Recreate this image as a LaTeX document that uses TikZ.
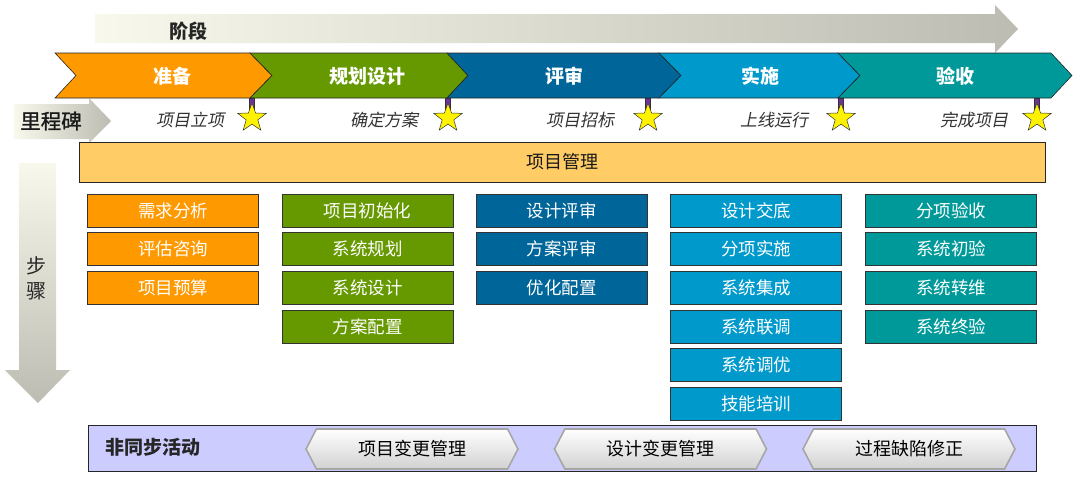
\documentclass[tikz,border=0pt]{standalone}
\usepackage{fontspec}
\setmainfont{Noto Sans CJK SC}
\newfontfamily\cjkit[FakeSlant=0.2]{Noto Sans CJK SC}
\newfontfamily\cjkmed[FakeBold=1.2]{Noto Sans CJK SC}
\usetikzlibrary{shapes.geometric,shapes.symbols}
\definecolor{corange}{HTML}{FF9900}
\definecolor{cgreen}{HTML}{669900}
\definecolor{cblue}{HTML}{006699}
\definecolor{clblue}{HTML}{0099CC}
\definecolor{cteal}{HTML}{009999}
\definecolor{cpm}{HTML}{FFCC66}
\definecolor{clav}{HTML}{CCCCFF}
\definecolor{cpurple}{HTML}{7030A0}
\definecolor{glight}{HTML}{F8F8EC}
\definecolor{gdark}{HTML}{BCBCB2}
\definecolor{txtgrey}{HTML}{333333}
\tikzset{
  stagepath/.style={draw=black!85, line width=0.6pt},
  stagelabel/.style={text=white, font=\fontsize{19}{19}\selectfont\bfseries, inner sep=0},
  stepbox/.style={draw=black!80, line width=0.8pt, minimum width=171pt, minimum height=33pt, inner sep=0, text=white, font=\fontsize{17.5}{18}\selectfont},
  mstext/.style={text=txtgrey, font=\fontsize{17}{17}\selectfont\cjkit, inner sep=0},
  msstar/.style={star, star points=5, star point ratio=2.45, fill=yellow, draw=black!80, line width=0.5pt, minimum size=30pt, inner sep=0},
  msbar/.style={fill=cpurple, draw=black!80, line width=0.4pt},
  btn/.style={signal, signal to=west and east, signal pointer angle=125, minimum width=212pt, minimum height=40pt, inner sep=0, top color=white, bottom color=black!18, draw=black!35, line width=1.6pt, font=\fontsize{18}{18}\selectfont},
}
\begin{document}
\begin{tikzpicture}[x=1pt,y=-1pt]
\useasboundingbox (0,0) rectangle (1080,482);
% top phase arrow
\shade[left color=glight, right color=gdark] (95,14) -- (995,14) -- (995,5) -- (1018,29) -- (995,53) -- (995,43) -- (95,43) -- cycle;
\node[font=\fontsize{19}{19}\selectfont\bfseries, text=black!85, inner sep=0] (phase) at (188,31) {阶段};
% milestone arrow
\shade[left color=glight, right color=gdark] (14,104) -- (89,104) -- (89,98) -- (111,121) -- (89,143) -- (89,139) -- (14,139) -- cycle;
\node[font=\fontsize{20.5}{21}\selectfont\cjkmed, text=black!90, inner sep=0] (ms) at (51,121) {里程碑};
% steps arrow
\shade[top color=glight, bottom color=gdark] (19,163) -- (56,163) -- (56,370) -- (70,370) -- (38,403) -- (5,370) -- (19,370) -- cycle;
\node[font=\fontsize{20}{25}\selectfont, text=black!85, align=center, inner sep=0] (steps) at (36,278) {步\\骤};
% chevrons
\path[stagepath, fill=corange] (55,53) -- (250,53) -- (272,75.5) -- (250,98) -- (55,98) -- (76,75.5) -- cycle;
\path[stagepath, fill=cgreen] (250,53) -- (447,53) -- (468,75.5) -- (447,98) -- (250,98) -- (272,75.5) -- cycle;
\path[stagepath, fill=cblue] (447,53) -- (659,53) -- (681,75.5) -- (659,98) -- (447,98) -- (468,75.5) -- cycle;
\path[stagepath, fill=clblue] (659,53) -- (838,53) -- (860,75.5) -- (838,98) -- (659,98) -- (681,75.5) -- cycle;
\path[stagepath, fill=cteal] (838,53) -- (1051,53) -- (1072,75.5) -- (1051,98) -- (838,98) -- (860,75.5) -- cycle;
\node[stagelabel] (st1) at (172,76) {准备};
\node[stagelabel] (st2) at (367,76) {规划设计};
\node[stagelabel] (st3) at (564,76) {评审};
\node[stagelabel] (st4) at (760,76) {实施};
\node[stagelabel] (st5) at (955,76) {验收};
% milestones
\foreach \x [count=\i] in {252,448,648,841,1037} {
  \path[msbar] (\x-2.5,98) rectangle (\x+2.5,109);
  \node[msstar] (star\i) at (\x,118) {};
}
\node[mstext] (m1) at (190,120) {项目立项};
\node[mstext] (m2) at (384,120) {确定方案};
\node[mstext] (m3) at (580,120) {项目招标};
\node[mstext] (m4) at (774,120) {上线运行};
\node[mstext] (m5) at (974,120) {完成项目};
% project management bar
\node[draw=black!85, line width=0.8pt, fill=cpm, minimum width=966pt, minimum height=40pt, inner sep=0, font=\fontsize{18}{18}\selectfont, text=black!90] (pm) at (562,162) {项目管理};
% step boxes
\node[stepbox, fill=corange] (a1) at (173,210.5) {需求分析};
\node[stepbox, fill=corange] (a2) at (173,249.2) {评估咨询};
\node[stepbox, fill=corange] (a3) at (173,287.9) {项目预算};
\node[stepbox, fill=cgreen] (b1) at (367.5,210.5) {项目初始化};
\node[stepbox, fill=cgreen] (b2) at (367.5,249.2) {系统规划};
\node[stepbox, fill=cgreen] (b3) at (367.5,287.9) {系统设计};
\node[stepbox, fill=cgreen] (b4) at (367.5,326.6) {方案配置};
\node[stepbox, fill=cblue] (c1) at (561.5,210.5) {设计评审};
\node[stepbox, fill=cblue] (c2) at (561.5,249.2) {方案评审};
\node[stepbox, fill=cblue] (c3) at (561.5,287.9) {优化配置};
\node[stepbox, fill=clblue] (d1) at (756,210.5) {设计交底};
\node[stepbox, fill=clblue] (d2) at (756,249.2) {分项实施};
\node[stepbox, fill=clblue] (d3) at (756,287.9) {系统集成};
\node[stepbox, fill=clblue] (d4) at (756,326.6) {系统联调};
\node[stepbox, fill=clblue] (d5) at (756,365.3) {系统调优};
\node[stepbox, fill=clblue] (d6) at (756,404) {技能培训};
\node[stepbox, fill=cteal] (e1) at (951,210.5) {分项验收};
\node[stepbox, fill=cteal] (e2) at (951,249.2) {系统初验};
\node[stepbox, fill=cteal] (e3) at (951,287.9) {系统转维};
\node[stepbox, fill=cteal] (e4) at (951,326.6) {系统终验};
% async bar
\node[draw=black!85, line width=0.8pt, fill=clav, minimum width=948pt, minimum height=46pt, inner sep=0] (async) at (562,448) {};
\node[font=\fontsize{19}{19}\selectfont\bfseries, text=black!85, inner sep=0] (asynct) at (153,447) {非同步活动};
\node[btn] (k1) at (412,449) {项目变更管理};
\node[btn] (k2) at (660.5,449) {设计变更管理};
\node[btn] (k3) at (909,449) {过程缺陷修正};
\end{tikzpicture}
\end{document}
